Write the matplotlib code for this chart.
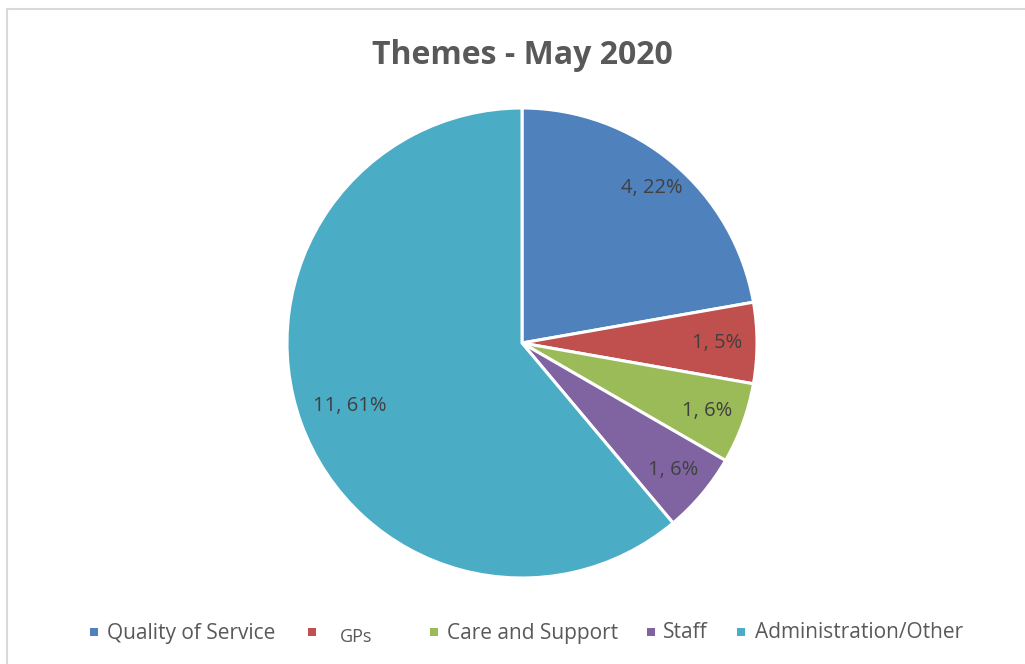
import numpy as np
import matplotlib
matplotlib.use("Agg")
import matplotlib.pyplot as plt
from matplotlib.patches import Rectangle

categories = ["Quality of Service", "GPs", "Care and Support", "Staff", "Administration/Other"]
counts = [4, 1, 1, 1, 11]
pct_labels = ["22%", "5%", "6%", "6%", "61%"]
colors = ["#4F81BD", "#C0504D", "#9BBB59", "#8064A2", "#4BACC6"]
label_radius = [0.86, 0.83, 0.84, 0.84, 0.78]

plt.rcParams["font.family"] = ["Open Sans", "DejaVu Sans"]

W, H = 1025, 664
fig = plt.figure(figsize=(W / 100, H / 100), dpi=100)
fig.patch.set_facecolor("white")

# chart frame
fig.patches.append(Rectangle((6.5 / W, -0.05), 1.1, 1 - 8.5 / H + 0.05,
                             transform=fig.transFigure, fill=False,
                             edgecolor="#D9D9D9", linewidth=1.5))

cx, cy, r = 522, 343, 235
ax = fig.add_axes([(cx - r) / W, (H - cy - r) / H, 2 * r / W, 2 * r / H])
wedges, _ = ax.pie(counts, colors=colors, startangle=90, counterclock=False,
                   radius=1.0,
                   wedgeprops=dict(edgecolor="white", linewidth=2.2))
ax.set_xlim(-1, 1)
ax.set_ylim(-1, 1)
ax.set_aspect("equal")
ax.axis("off")

for w, n, p, lr in zip(wedges, counts, pct_labels, label_radius):
    mid = np.deg2rad((w.theta1 + w.theta2) / 2)
    ax.text(lr * np.cos(mid), lr * np.sin(mid), f"{n}, {p}",
            ha="center", va="center", fontsize=14.5, color="#404040")

fig.text(522 / W, 1 - 55 / H, "Themes - May 2020", ha="center", va="center",
         fontsize=23, fontweight="bold", color="#595959")

# legend row: square key followed by the category name
key_x = [94, 312, 434, 651, 741]
text_x = [107, 340, 447, 663, 755]
text_size = [15, 13, 15, 15, 15]
text_dy = [0, 4, 0, 0, 0]
ky = 632
ks = 8
for c, name, kx, tx, fs, dy in zip(colors, categories, key_x, text_x, text_size, text_dy):
    fig.patches.append(Rectangle(((kx - ks / 2) / W, (H - ky - ks / 2) / H), ks / W, ks / H,
                                 transform=fig.transFigure, facecolor=c, edgecolor="none"))
    fig.text(tx / W, (H - ky - 1 - dy) / H, name, ha="left", va="center",
             fontsize=fs, color="#595959")

fig.savefig("out.png", dpi=100, facecolor="white")
